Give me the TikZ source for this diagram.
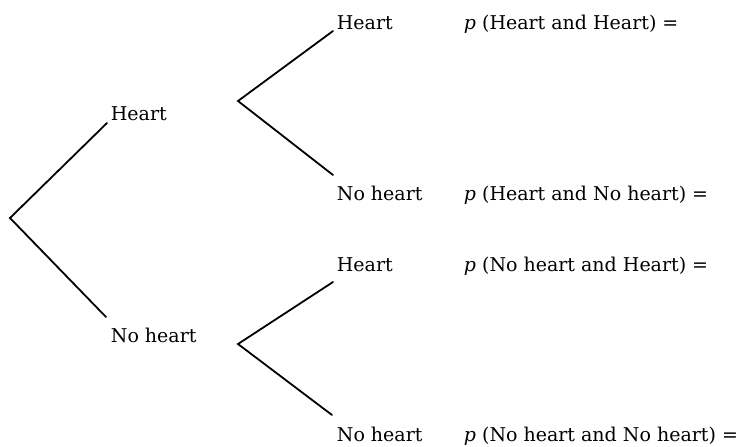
\documentclass[tikz,border=0pt]{standalone}
\usepackage{fontspec}
\setmainfont{DejaVu Serif}
\begin{document}
\begin{tikzpicture}[x=1pt,y=-1pt,line width=1.8pt,line cap=round,
    lbl/.style={anchor=base west,inner sep=0pt,font=\fontsize{19}{23}\selectfont}]
    \useasboundingbox (0,0) rectangle (745,447);
    % first split
    \coordinate (root) at (10,218);
    \coordinate (h) at (107,123);
    \coordinate (n) at (106,317);
    \draw (h) -- (root) -- (n);
    \node [lbl] (hlab) at (110,120) {Heart};
    \node [lbl] (nlab) at (110,342) {No heart};
    % second split, after Heart
    \coordinate (hfork) at (238,101);
    \coordinate (hh) at (333,31);
    \coordinate (hn) at (333,175);
    \draw (hh) -- (hfork) -- (hn);
    % second split, after No heart
    \coordinate (nfork) at (238,344);
    \coordinate (nh) at (333,282);
    \coordinate (nn) at (332,415);
    \draw (nh) -- (nfork) -- (nn);
    % leaves and their probabilities
    \node [lbl] (hhlab) at (336,29) {Heart};
    \node [lbl] (hnlab) at (336,200) {No heart};
    \node [lbl] (nhlab) at (336,271) {Heart};
    \node [lbl] (nnlab) at (336,441) {No heart};
    \node [lbl] (phh) at (463,29) {\textit{p} (Heart and Heart) =};
    \node [lbl] (phn) at (463,200) {\textit{p} (Heart and No heart) =};
    \node [lbl] (pnh) at (463,271) {\textit{p} (No heart and Heart) =};
    \node [lbl] (pnn) at (463,441) {\textit{p} (No heart and No heart) =};
\end{tikzpicture}
\end{document}
